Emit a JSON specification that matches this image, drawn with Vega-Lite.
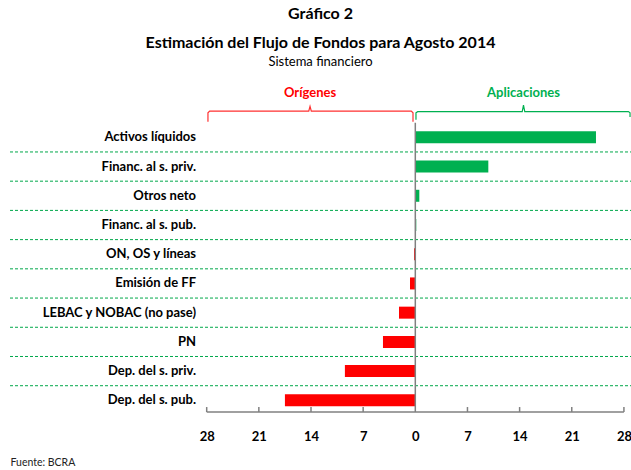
{
  "$schema": "https://vega.github.io/schema/vega-lite/v6.json",
  "autosize": "none",
  "width": 621,
  "height": 339,
  "padding": {"left": 10, "top": 78, "right": 0, "bottom": 53},
  "background": "white",
  "title": {
    "text": ["Gráfico 2", "Estimación del Flujo de Fondos para Agosto 2014"],
    "subtitle": "Sistema financiero",
    "font": "Lato",
    "fontSize": 16,
    "fontWeight": "bold",
    "lineHeight": 29,
    "subtitleFont": "Lato",
    "subtitleFontSize": 13,
    "subtitlePadding": 5,
    "color": "black",
    "subtitleColor": "black",
    "anchor": "middle",
    "offset": 9
  },
  "config": {"view": {"stroke": null}},
  "layer": [
    {
      "data": {"values": [
        {"s": 0.5, "xa": -54.4, "xb": 28.95}, {"s": 1.5, "xa": -54.4, "xb": 28.95},
        {"s": 2.5, "xa": -54.4, "xb": 28.95}, {"s": 3.5, "xa": -54.4, "xb": 28.95},
        {"s": 4.5, "xa": -54.4, "xb": 28.95}, {"s": 5.5, "xa": -54.4, "xb": 28.95},
        {"s": 6.5, "xa": -54.4, "xb": 28.95}, {"s": 7.5, "xa": -54.4, "xb": 28.95},
        {"s": 8.5, "xa": -54.4, "xb": 28.95}
      ]},
      "mark": {"type": "rule", "color": "#00a84a", "strokeDash": [3, 2], "strokeWidth": 1},
      "encoding": {
        "y": {"field": "s", "type": "quantitative"},
        "x": {"field": "xa", "type": "quantitative"},
        "x2": {"field": "xb"}
      }
    },
    {
      "data": {"values": [
        {"cat": "Activos líquidos", "idx": 0, "v": 24.25, "lx": -29.43},
        {"cat": "Financ. al s. priv.", "idx": 1, "v": 9.8, "lx": -29.43},
        {"cat": "Otros neto", "idx": 2, "v": 0.54, "lx": -29.43},
        {"cat": "Financ. al s. pub.", "idx": 3, "v": 0.13, "lx": -29.43},
        {"cat": "ON, OS y líneas", "idx": 4, "v": -0.17, "lx": -29.43},
        {"cat": "Emisión de FF", "idx": 5, "v": -0.71, "lx": -29.43},
        {"cat": "LEBAC y NOBAC (no pase)", "idx": 6, "v": -2.19, "lx": -29.43},
        {"cat": "PN", "idx": 7, "v": -4.34, "lx": -29.43},
        {"cat": "Dep. del s. priv.", "idx": 8, "v": -9.45, "lx": -29.43},
        {"cat": "Dep. del s. pub.", "idx": 9, "v": -17.5, "lx": -29.43}
      ]},
      "layer": [
        {
          "mark": {"type": "bar", "orient": "horizontal", "size": 12},
          "encoding": {
            "y": {"field": "idx", "type": "quantitative",
                  "scale": {"domain": [-1.86, 9.4], "reverse": true, "nice": false, "zero": false},
                  "axis": null},
            "x": {"field": "v", "type": "quantitative",
                  "scale": {"domain": [-54.4, 28.95], "nice": false, "zero": false},
                  "axis": {
                    "values": [-28, -21, -14, -7, 0, 7, 14, 21, 28],
                    "labelExpr": "abs(datum.value)",
                    "domain": false,
                    "grid": false,
                    "ticks": false,
                    "labelFont": "Lato",
                    "labelFontSize": 13,
                    "labelFontWeight": "bold",
                    "labelColor": "black",
                    "labelPadding": 13,
                    "title": "Fuente: BCRA",
                    "titleX": 0,
                    "titleY": 45,
                    "titleAlign": "left",
                    "titleBaseline": "middle",
                    "titleFont": "Lato",
                    "titleFontSize": 10.5,
                    "titleFontWeight": "normal",
                    "titleColor": "#222"
                  }},
            "color": {"condition": {"test": "datum.v > 0", "value": "#00b050"}, "value": "#ff0000"}
          }
        },
        {
          "mark": {"type": "text", "align": "right", "baseline": "middle", "font": "Lato", "fontSize": 13, "fontWeight": "bold", "color": "black"},
          "encoding": {
            "y": {"field": "idx", "type": "quantitative"},
            "x": {"field": "lx", "type": "quantitative"},
            "text": {"field": "cat", "type": "nominal"}
          }
        }
      ]
    },
    {
      "data": {"values": [
        {"xa": 0, "xb": 0, "ya": -0.5, "yb": 9.4},
        {"xa": -28, "xb": 28, "ya": 9.4, "yb": 9.4},
        {"xa": -28, "xb": -28, "ya": 9.23, "yb": 9.4},
        {"xa": -21, "xb": -21, "ya": 9.23, "yb": 9.4},
        {"xa": -14, "xb": -14, "ya": 9.23, "yb": 9.4},
        {"xa": -7, "xb": -7, "ya": 9.23, "yb": 9.4},
        {"xa": 7, "xb": 7, "ya": 9.23, "yb": 9.4},
        {"xa": 14, "xb": 14, "ya": 9.23, "yb": 9.4},
        {"xa": 21, "xb": 21, "ya": 9.23, "yb": 9.4},
        {"xa": 28, "xb": 28, "ya": 9.23, "yb": 9.4}
      ]},
      "mark": {"type": "rule", "color": "#808080", "strokeWidth": 1.5},
      "encoding": {
        "x": {"field": "xa", "type": "quantitative"},
        "x2": {"field": "xb"},
        "y": {"field": "ya", "type": "quantitative"},
        "y2": {"field": "yb"}
      }
    },
    {
      "data": {"values": [
        {"o": 0, "x": -27.83, "y": -0.53},
        {"o": 1, "x": -27.83, "y": -0.84},
        {"o": 2, "x": -27.6, "y": -0.9},
        {"o": 3, "x": -14.3, "y": -0.9},
        {"o": 4, "x": -14.13, "y": -1.06},
        {"o": 5, "x": -13.96, "y": -0.9},
        {"o": 6, "x": -0.54, "y": -0.9},
        {"o": 7, "x": -0.31, "y": -0.84},
        {"o": 8, "x": -0.31, "y": -0.53}
      ]},
      "mark": {"type": "line", "strokeWidth": 1.2, "color": "#ff3030"},
      "encoding": {
        "x": {"field": "x", "type": "quantitative"},
        "y": {"field": "y", "type": "quantitative"},
        "order": {"field": "o", "type": "quantitative"}
      }
    },
    {
      "data": {"values": [
        {"o": 0, "x": 0.09, "y": -0.6},
        {"o": 1, "x": 0.09, "y": -0.84},
        {"o": 2, "x": 0.32, "y": -0.88},
        {"o": 3, "x": 14.35, "y": -0.88},
        {"o": 4, "x": 14.52, "y": -1.1},
        {"o": 5, "x": 14.69, "y": -0.88},
        {"o": 6, "x": 28.6, "y": -0.88},
        {"o": 7, "x": 28.82, "y": -0.84},
        {"o": 8, "x": 28.82, "y": -0.7}
      ]},
      "mark": {"type": "line", "strokeWidth": 1.2, "color": "#00b050"},
      "encoding": {
        "x": {"field": "x", "type": "quantitative"},
        "y": {"field": "y", "type": "quantitative"},
        "order": {"field": "o", "type": "quantitative"}
      }
    },
    {
      "data": {"values": [{"t": "Orígenes", "x": -14.13, "y": -1.53}]},
      "mark": {"type": "text", "align": "center", "baseline": "middle", "font": "Lato", "fontSize": 13, "fontWeight": "bold", "color": "#ff0000"},
      "encoding": {
        "x": {"field": "x", "type": "quantitative"},
        "y": {"field": "y", "type": "quantitative"},
        "text": {"field": "t", "type": "nominal"}
      }
    },
    {
      "data": {"values": [{"t": "Aplicaciones", "x": 14.52, "y": -1.53}]},
      "mark": {"type": "text", "align": "center", "baseline": "middle", "font": "Lato", "fontSize": 13, "fontWeight": "bold", "color": "#00b050"},
      "encoding": {
        "x": {"field": "x", "type": "quantitative"},
        "y": {"field": "y", "type": "quantitative"},
        "text": {"field": "t", "type": "nominal"}
      }
    }
  ]
}
